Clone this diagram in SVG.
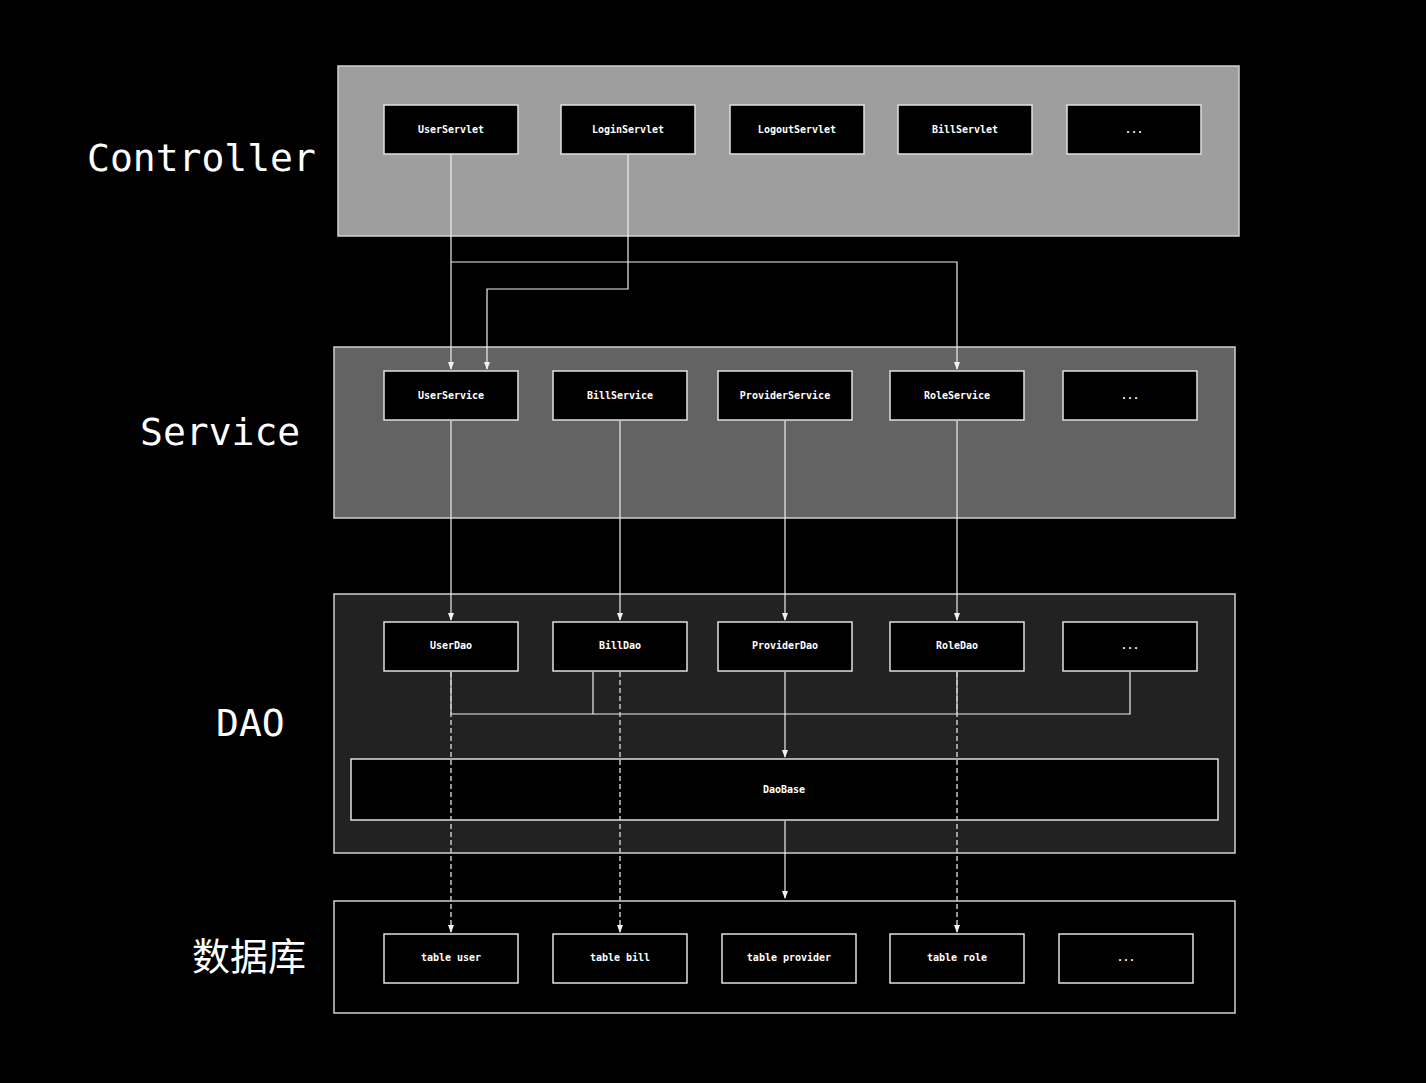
<svg xmlns="http://www.w3.org/2000/svg" width="1426" height="1083" viewBox="0 0 1426 1083">
<defs>
<marker id="arr" markerWidth="8" markerHeight="8" refX="7" refY="4" orient="auto" markerUnits="userSpaceOnUse" viewBox="0 0 8 8">
<path d="M0,1 L8,4 L0,7 Z" fill="#f2f2f2"/>
</marker>
<style>
.layer{stroke:#d0d0d0;stroke-width:1.5}
.node rect{fill:#000;stroke:#e0e0e0;stroke-width:1.5}
.node text{fill:#fff;font-family:"DejaVu Sans Mono","Liberation Mono",monospace;font-size:10px;font-weight:bold;text-anchor:middle}
.big{fill:#fff;font-family:"DejaVu Sans Mono","Liberation Mono",monospace;font-size:38px}
.cjk{fill:#fff;font-family:"Noto Sans CJK SC","DejaVu Sans",sans-serif;font-size:38px}
.ln{fill:none;stroke:#eeeeee;stroke-width:1.2}
.dash{fill:none;stroke:#c8c8c8;stroke-width:1.5;stroke-dasharray:5,3}
</style>
</defs>
<rect x="0" y="0" width="1426" height="1083" fill="#000"/>

<g id="layers">
<rect class="layer" x="338" y="66" width="901" height="170" fill="#9e9e9e"/>
<rect class="layer" x="334" y="347" width="901" height="171" fill="#636363"/>
<rect class="layer" x="334" y="594" width="901" height="259" fill="#222222"/>
<rect class="layer" x="334" y="901" width="901" height="112" fill="#000000"/>
</g>

<g id="labels">
<text class="big" x="87" y="171">Controller</text>
<text class="big" x="140" y="445">Service</text>
<text class="big" x="216" y="736">DAO</text>
<text class="cjk" x="192" y="970">数据库</text>
</g>

<g id="UserServlet" class="node"><rect x="384" y="105" width="134" height="49"/><text x="451" y="133">UserServlet</text></g>
<g id="LoginServlet" class="node"><rect x="561" y="105" width="134" height="49"/><text x="628" y="133">LoginServlet</text></g>
<g id="LogoutServlet" class="node"><rect x="730" y="105" width="134" height="49"/><text x="797" y="133">LogoutServlet</text></g>
<g id="BillServlet" class="node"><rect x="898" y="105" width="134" height="49"/><text x="965" y="133">BillServlet</text></g>
<g id="ServletMore" class="node"><rect x="1067" y="105" width="134" height="49"/><text x="1134" y="133">...</text></g>

<g id="UserService" class="node"><rect x="384" y="371" width="134" height="49"/><text x="451" y="399">UserService</text></g>
<g id="BillService" class="node"><rect x="553" y="371" width="134" height="49"/><text x="620" y="399">BillService</text></g>
<g id="ProviderService" class="node"><rect x="718" y="371" width="134" height="49"/><text x="785" y="399">ProviderService</text></g>
<g id="RoleService" class="node"><rect x="890" y="371" width="134" height="49"/><text x="957" y="399">RoleService</text></g>
<g id="ServiceMore" class="node"><rect x="1063" y="371" width="134" height="49"/><text x="1130" y="399">...</text></g>

<g id="UserDao" class="node"><rect x="384" y="622" width="134" height="49"/><text x="451" y="649">UserDao</text></g>
<g id="BillDao" class="node"><rect x="553" y="622" width="134" height="49"/><text x="620" y="649">BillDao</text></g>
<g id="ProviderDao" class="node"><rect x="718" y="622" width="134" height="49"/><text x="785" y="649">ProviderDao</text></g>
<g id="RoleDao" class="node"><rect x="890" y="622" width="134" height="49"/><text x="957" y="649">RoleDao</text></g>
<g id="DaoMore" class="node"><rect x="1063" y="622" width="134" height="49"/><text x="1130" y="649">...</text></g>
<g id="DaoBase" class="node"><rect x="351" y="759" width="867" height="61"/><text x="784" y="793">DaoBase</text></g>

<g id="TableUser" class="node"><rect x="384" y="934" width="134" height="49"/><text x="451" y="961">table user</text></g>
<g id="TableBill" class="node"><rect x="553" y="934" width="134" height="49"/><text x="620" y="961">table bill</text></g>
<g id="TableProvider" class="node"><rect x="722" y="934" width="134" height="49"/><text x="789" y="961">table provider</text></g>
<g id="TableRole" class="node"><rect x="890" y="934" width="134" height="49"/><text x="957" y="961">table role</text></g>
<g id="TableMore" class="node"><rect x="1059" y="934" width="134" height="49"/><text x="1126" y="961">...</text></g>

<g id="connectors">
<path class="ln" d="M451,155 V369" marker-end="url(#arr)"/>
<path class="ln" d="M451,262 H957 V369" marker-end="url(#arr)"/>
<path class="ln" d="M628,155 V289 H487 V369" marker-end="url(#arr)"/>
<path class="ln" d="M451,421 V620" marker-end="url(#arr)"/>
<path class="ln" d="M620,421 V620" marker-end="url(#arr)"/>
<path class="ln" d="M785,421 V620" marker-end="url(#arr)"/>
<path class="ln" d="M957,421 V620" marker-end="url(#arr)"/>
<path class="ln" d="M451,672 V714 H1130 V672"/>
<path class="ln" d="M593,672 V714"/>
<path class="ln" d="M957,672 V714"/>
<path class="ln" d="M785,672 V757" marker-end="url(#arr)"/>
<path class="ln" d="M785,821 V898" marker-end="url(#arr)"/>
<path class="dash" d="M451,672 V932" marker-end="url(#arr)"/>
<path class="dash" d="M620,672 V932" marker-end="url(#arr)"/>
<path class="dash" d="M957,672 V932" marker-end="url(#arr)"/>
</g>
</svg>
